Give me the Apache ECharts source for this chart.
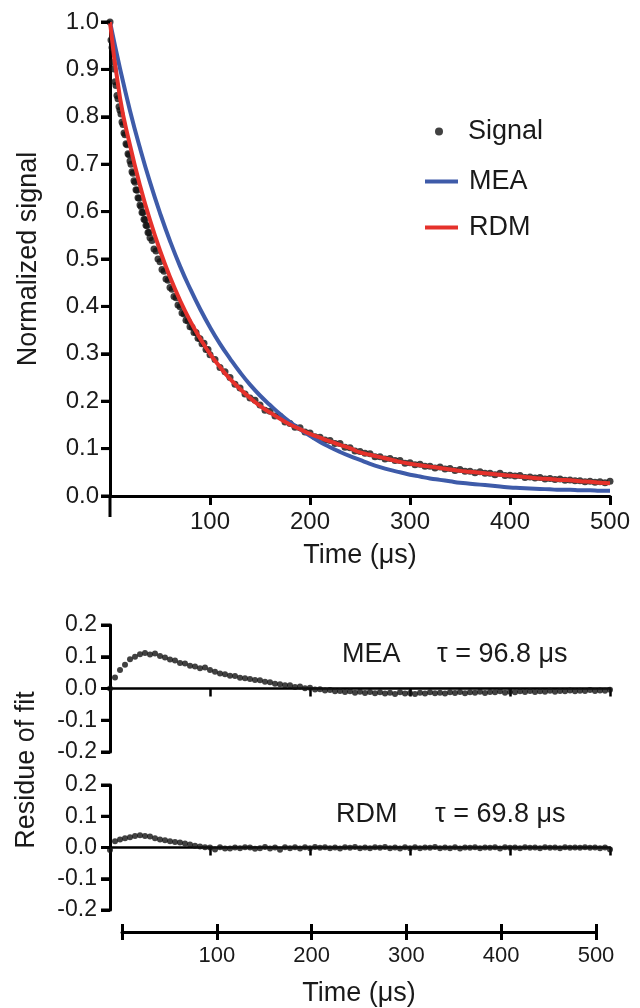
<!DOCTYPE html>
<html>
<head>
<meta charset="utf-8" />
<title>Signal decay and residues of fit</title>
<script type="text/javascript" src="https://cdn.jsdelivr.net/npm/echarts@6.0.0/dist/echarts.min.js"></script>
<style>
    html, body { margin: 0; padding: 0; background: #fff; }
    #main { width: 640px; height: 1008px; }
</style>
</head>
<body>
<div id="main"></div>
<script>
// time points of the recorded signal (us): dense where the decay is steep
var signalTime = [0,1,2,3,4,5,6,7,8,9,10,11,12,13,14,15,16,17,18,19,
    20,21,22,23,24,25,26,27,28,29,30,31,32,33,34,35,36,37,38,39,40,
    42,44,46,48,50,52,54,56,58,60,62,64,66,68,70,72,74,76,78,80,
    82,84,86,88,90,92,94,96,98,100,
    105,110,115,120,125,130,135,140,145,150,155,160,165,170,175,180,185,190,195,
    200,205,210,215,220,225,230,235,240,245,250,255,260,265,270,275,280,285,290,295,
    300,305,310,315,320,325,330,335,340,345,350,355,360,365,370,375,380,385,390,395,
    400,405,410,415,420,425,430,435,440,445,450,455,460,465,470,475,480,485,490,495,500];

var signal = [1.000,0.962,0.946,0.915,0.901,0.874,0.866,0.845,0.838,0.821,
    0.814,0.806,0.789,0.784,0.766,0.762,0.743,0.741,0.722,0.720,
    0.707,0.700,0.684,0.681,0.665,0.662,0.646,0.645,0.629,0.628,
    0.614,0.611,0.598,0.598,0.584,0.583,0.571,0.570,0.556,0.556,0.545,
    0.539,0.521,0.517,0.500,0.494,0.478,0.474,0.458,0.455,0.440,
    0.436,0.421,0.418,0.403,0.399,0.386,0.384,0.371,0.369,0.357,
    0.356,0.345,0.345,0.333,0.332,0.321,0.322,0.309,0.309,0.298,
    0.288,0.271,0.262,0.250,0.236,0.228,0.215,0.207,0.202,
    0.192,0.181,0.179,0.169,0.168,0.156,0.153,0.145,0.144,0.135,
    0.133,0.125,0.124,0.118,0.117,0.111,0.111,0.103,0.102,0.095,
    0.094,0.090,0.089,0.083,0.083,0.078,0.079,0.075,0.075,0.069,
    0.070,0.066,0.067,0.063,0.063,0.059,0.061,0.057,0.058,0.054,
    0.056,0.052,0.052,0.049,0.051,0.048,0.048,0.045,0.048,0.043,
    0.044,0.042,0.043,0.039,0.040,0.038,0.039,0.036,0.037,0.035,
    0.036,0.033,0.034,0.032,0.032,0.030,0.031,0.029,0.030,0.028,0.031];

// fitted curves, sampled every 10 us
var fitTime = [0,10,20,30,40,50,60,70,80,90,100,110,120,130,140,150,160,170,180,190,
    200,210,220,230,240,250,260,270,280,290,300,310,320,330,340,350,360,370,380,390,
    400,410,420,430,440,450,460,470,480,490,500];

var meaFit = [1.000,0.902,0.813,0.734,0.662,0.597,0.538,0.485,0.438,0.395,
    0.356,0.321,0.290,0.261,0.235,0.212,0.192,0.173,0.156,0.141,
    0.127,0.114,0.103,0.093,0.084,0.076,0.068,0.061,0.055,0.050,
    0.045,0.041,0.037,0.034,0.031,0.028,0.026,0.024,0.022,0.020,
    0.018,0.017,0.016,0.015,0.014,0.013,0.013,0.012,0.012,0.011,0.011];

var rdmFit = [1.000,0.840,0.740,0.655,0.582,0.518,0.462,0.413,0.370,0.333,
    0.300,0.272,0.247,0.226,0.207,0.190,0.176,0.163,0.151,0.141,
    0.131,0.123,0.115,0.108,0.101,0.092,0.087,0.082,0.077,0.072,
    0.068,0.065,0.062,0.059,0.056,0.053,0.051,0.049,0.047,0.045,
    0.043,0.041,0.039,0.037,0.036,0.034,0.033,0.031,0.030,0.028,0.027];

// residues of fit, every 5 us
var residueTime = [0,5,10,15,20,25,30,35,40,45,50,55,60,65,70,75,80,85,90,95,
    100,105,110,115,120,125,130,135,140,145,150,155,160,165,170,175,180,185,190,195,
    200,205,210,215,220,225,230,235,240,245,250,255,260,265,270,275,280,285,290,295,
    300,305,310,315,320,325,330,335,340,345,350,355,360,365,370,375,380,385,390,395,
    400,405,410,415,420,425,430,435,440,445,450,455,460,465,470,475,480,485,490,495,500];

var meaResidue = [0.000,0.035,0.058,0.075,0.092,0.100,0.108,0.112,0.107,0.110,
    0.102,0.098,0.091,0.088,0.080,0.079,0.072,0.069,0.064,0.066,
    0.058,0.053,0.047,0.045,0.040,0.039,0.034,0.032,0.030,0.027,
    0.026,0.021,0.020,0.015,0.013,0.010,0.010,0.005,0.006,0.001,
    0.002,-0.003,-0.002,-0.006,-0.005,-0.009,-0.008,-0.011,-0.009,-0.013,
    -0.010,-0.014,-0.011,-0.015,-0.012,-0.016,-0.013,-0.017,-0.012,-0.016,
    -0.014,-0.017,-0.013,-0.016,-0.012,-0.015,-0.013,-0.016,-0.012,-0.014,
    -0.011,-0.015,-0.012,-0.013,-0.010,-0.014,-0.011,-0.012,-0.009,-0.013,
    -0.010,-0.012,-0.009,-0.011,-0.008,-0.011,-0.009,-0.010,-0.007,-0.010,
    -0.008,-0.009,-0.006,-0.009,-0.007,-0.008,-0.005,-0.008,-0.006,-0.007,-0.004];

var rdmResidue = [-0.008,0.020,0.026,0.030,0.033,0.037,0.039,0.037,0.035,0.030,
    0.026,0.023,0.020,0.018,0.016,0.013,0.010,0.006,0.003,0.001,
    0.000,-0.006,0.001,-0.003,-0.003,0.000,-0.002,0.001,0.000,-0.004,
    -0.002,0.002,-0.003,0.000,-0.007,0.001,-0.002,0.001,-0.003,0.001,
    -0.002,0.002,-0.001,0.001,-0.002,0.000,-0.003,0.001,-0.001,0.002,
    -0.002,0.000,-0.002,0.001,-0.001,0.002,-0.002,0.000,-0.003,0.001,
    -0.002,0.001,-0.002,0.000,-0.001,0.002,-0.002,0.000,-0.002,0.001,
    -0.003,0.000,-0.001,0.001,-0.002,0.000,-0.001,0.001,-0.003,0.001,
    -0.001,0.000,-0.002,0.001,-0.001,0.000,-0.002,0.001,-0.001,0.000,
    -0.002,0.001,-0.001,0.000,-0.001,0.001,-0.001,0.000,-0.002,0.000,-0.006];

var topYTicks = [0,0.1,0.2,0.3,0.4,0.5,0.6,0.7,0.8,0.9,1.0];
var residueYTicks = [-0.2,-0.1,0,0.1,0.2];
var xTicks = [100,200,300,400,500];

function pairs(xs, ys) {
    var out = [];
    for (var i = 0; i < xs.length; i++) out.push([xs[i], ys[i]]);
    return out;
}

var FONT = "'Liberation Sans', Arial, sans-serif";
var INK = '#1a1a1a';
var BLUE = '#3e5ba9';
var RED = '#e5312b';

function fmt(v) { return v.toFixed(1); }

var residueY = function (grid) {
    return {
        type: 'value', gridIndex: grid, min: -0.2, max: 0.2, interval: 0.1,
        splitLine: { show: false },
        axisLine: { show: true, onZero: false, lineStyle: { color: '#000', width: 3 } },
        axisTick: { show: true, inside: false, length: 9, lineStyle: { color: '#000', width: 3 } },
        axisLabel: { formatter: fmt, margin: 13, fontSize: 23, color: INK }
    };
};
var residueX = function (grid) {
    return {
        type: 'value', gridIndex: grid, min: 0, max: 500,
        splitLine: { show: false },
        axisLine: { onZero: true, lineStyle: { color: '#000', width: 2.5 } },
        axisTick: { customValues: xTicks, length: 8, lineStyle: { color: '#000', width: 2.5 } },
        axisLabel: { show: false }
    };
};

var chart = echarts.init(document.getElementById('main'));
chart.setOption({
    animation: false,
    backgroundColor: '#fff',
    textStyle: { fontFamily: FONT },
    grid: [
        { left: 110, top: 22, width: 500, height: 474 },
        { left: 110, top: 625, width: 500, height: 127 },
        { left: 110, top: 785, width: 500, height: 125 },
        { left: 122, top: 900, width: 474, height: 32 }
    ],
    legend: [
        { data: [{ name: 'Signal', icon: 'circle' }], left: 435, top: 118, padding: 0,
          itemWidth: 8, itemHeight: 8, selectedMode: false,
          textStyle: { fontSize: 27, color: INK, padding: [0, 0, 0, 20] } },
        { data: [{ name: 'MEA', icon: 'rect' }], left: 425, top: 168, padding: 0,
          itemWidth: 33, itemHeight: 4, selectedMode: false,
          textStyle: { fontSize: 27, color: INK, padding: [0, 0, 0, 6] } },
        { data: [{ name: 'RDM', icon: 'rect' }], left: 425, top: 214, padding: 0,
          itemWidth: 33, itemHeight: 4, selectedMode: false,
          textStyle: { fontSize: 27, color: INK, padding: [0, 0, 0, 6] } }
    ],
    xAxis: [
        {
            type: 'value', gridIndex: 0, min: 0, max: 500,
            splitLine: { show: false },
            axisLine: { onZero: false, lineStyle: { color: '#000', width: 3 } },
            axisTick: { customValues: xTicks, length: 9, lineStyle: { color: '#000', width: 3 } },
            axisLabel: { customValues: xTicks, margin: 14, fontSize: 24, color: INK },
            name: 'Time (\u03bcs)', nameLocation: 'middle', nameGap: 46,
            nameTextStyle: { fontSize: 27, color: INK }
        },
        residueX(1),
        residueX(2),
        {
            type: 'value', gridIndex: 3, min: 0, max: 500, interval: 100, position: 'bottom',
            splitLine: { show: false },
            axisLine: { onZero: false, lineStyle: { color: '#000', width: 3 } },
            axisTick: { length: 8, lineStyle: { color: '#000', width: 3 } },
            axisLabel: { customValues: xTicks, margin: 13, fontSize: 22, color: INK },
            name: 'Time (\u03bcs)', nameLocation: 'middle', nameGap: 48,
            nameTextStyle: { fontSize: 27, color: INK }
        },
        {
            type: 'value', gridIndex: 3, min: 0, max: 500, interval: 100, position: 'bottom',
            splitLine: { show: false },
            axisLine: { show: false, onZero: false },
            axisTick: { inside: true, length: 8, lineStyle: { color: '#000', width: 3 } },
            axisLabel: { show: false }
        }
    ],
    yAxis: [
        {
            type: 'value', gridIndex: 0, min: 0, max: 1.0, interval: 0.1,
            splitLine: { show: false },
            axisLine: { show: true, onZero: false, lineStyle: { color: '#000', width: 3 } },
            axisTick: { show: true, inside: false, length: 9, lineStyle: { color: '#000', width: 3 } },
            axisLabel: { formatter: fmt, margin: 11, fontSize: 24, color: INK },
            name: 'Normalized signal', nameLocation: 'middle', nameGap: 68,
            nameTextStyle: { fontSize: 27, color: INK }
        },
        residueY(1),
        residueY(2),
        { type: 'value', gridIndex: 3, min: 0, max: 1, show: false }
    ],
    series: [
        {
            name: 'Signal', type: 'scatter', xAxisIndex: 0, yAxisIndex: 0,
            symbolSize: 7, itemStyle: { color: '#111' },
            data: pairs(signalTime, signal)
        },
        {
            name: 'MEA', type: 'line', xAxisIndex: 0, yAxisIndex: 0,
            smooth: true, showSymbol: false,
            itemStyle: { color: BLUE }, lineStyle: { color: BLUE, width: 4 },
            data: pairs(fitTime, meaFit)
        },
        {
            name: 'RDM', type: 'line', xAxisIndex: 0, yAxisIndex: 0,
            smooth: true, showSymbol: false,
            itemStyle: { color: RED }, lineStyle: { color: RED, width: 4 },
            data: pairs(fitTime, rdmFit)
        },
        {
            name: 'MEA residue', type: 'scatter', xAxisIndex: 1, yAxisIndex: 1,
            symbolSize: 6, itemStyle: { color: '#111' },
            data: pairs(residueTime, meaResidue)
        },
        {
            name: 'RDM residue', type: 'scatter', xAxisIndex: 2, yAxisIndex: 2,
            symbolSize: 6, itemStyle: { color: '#111' },
            data: pairs(residueTime, rdmResidue)
        }
    ]
});

// texts, the y-axis run-on below the time axis, and y ticks placed through the axes
var extras = [
    { type: 'text', x: 342, y: 655, style: { text: 'MEA', font: '27px ' + FONT, fill: INK, verticalAlign: 'middle' } },
    { type: 'text', x: 437, y: 655, style: { text: '\u03c4 = 96.8 \u03bcs', font: '27px ' + FONT, fill: INK, verticalAlign: 'middle' } },
    { type: 'text', x: 336, y: 815, style: { text: 'RDM', font: '27px ' + FONT, fill: INK, verticalAlign: 'middle' } },
    { type: 'text', x: 435, y: 815, style: { text: '\u03c4 = 69.8 \u03bcs', font: '27px ' + FONT, fill: INK, verticalAlign: 'middle' } },
    { type: 'text', x: 27, y: 770, rotation: Math.PI / 2,
      style: { text: 'Residue of fit', font: '27px ' + FONT, fill: INK, align: 'center', verticalAlign: 'middle' } }
];
var zero = chart.convertToPixel({ gridIndex: 0 }, [0, 0]);
extras.push({ type: 'line', z: 10, shape: { x1: zero[0], y1: zero[1], x2: zero[0], y2: zero[1] + 21 },
    style: { stroke: '#000', lineWidth: 3 } });
function addYTicks(grid, values) {
    values.forEach(function (v) {
        var p = chart.convertToPixel({ gridIndex: grid }, [0, v]);
        extras.push({ type: 'line', z: 10, shape: { x1: p[0] - 9, y1: p[1], x2: p[0], y2: p[1] },
            style: { stroke: '#000', lineWidth: 3 } });
    });
}
addYTicks(0, topYTicks);
addYTicks(1, residueYTicks);
addYTicks(2, residueYTicks);
chart.setOption({ graphic: extras });
</script>
</body>
</html>
